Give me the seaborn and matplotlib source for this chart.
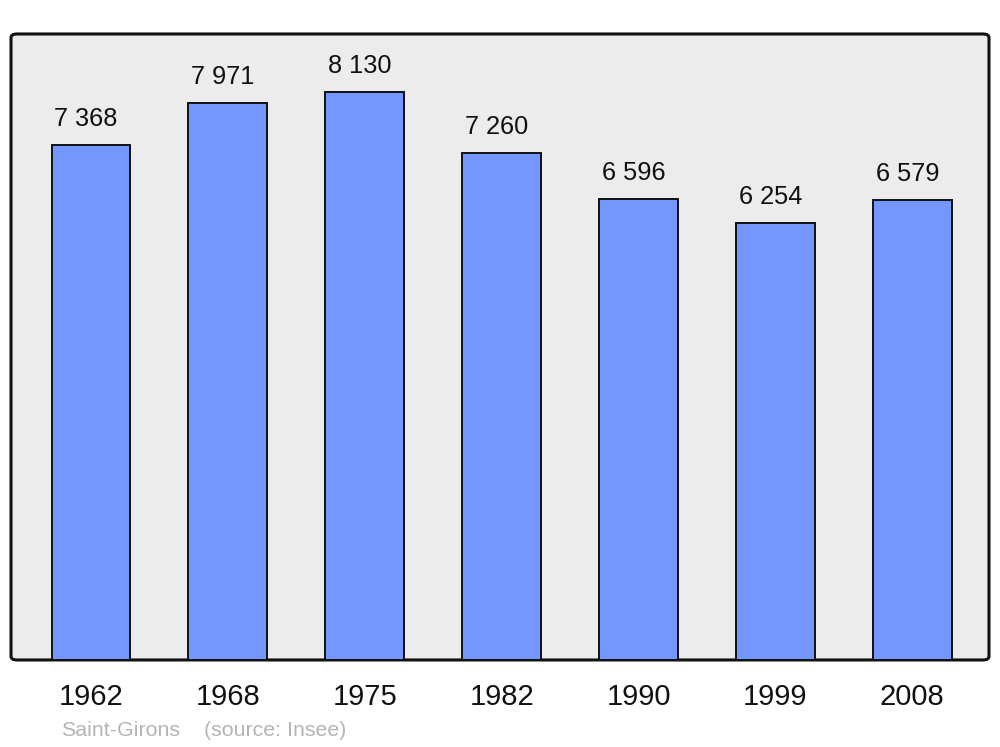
import numpy as np
import pandas as pd
import seaborn as sns
import matplotlib.pyplot as plt
from matplotlib.patches import FancyBboxPatch

years = ["1962", "1968", "1975", "1982", "1990", "1999", "2008"]
population = [7368, 7971, 8130, 7260, 6596, 6254, 6579]
value_labels = ["7 368", "7 971", "8 130", "7 260", "6 596", "6 254", "6 579"]
town = "Saint-Girons"
source = "(source: Insee)"

df = pd.DataFrame({"year": years, "pop": population})

sns.set_style("white")
plt.rcParams['font.family'] = ['Liberation Sans', 'DejaVu Sans']

fig = plt.figure(figsize=(10, 7.47), dpi=100)
ax = fig.add_axes([0.011, 0.1165, 0.978, 0.838])
ax.set_facecolor("none")

# rounded background frame
frame = FancyBboxPatch((0, 0), 1, 1, boxstyle="round,pad=0,rounding_size=0.006",
                       transform=ax.transAxes, facecolor="#ececec", edgecolor="#111111",
                       linewidth=2.2, zorder=0, clip_on=False)
ax.add_patch(frame)

sns.barplot(data=df, x="year", y="pop", color="#7396ff", saturation=1,
            width=0.575, edgecolor="#111111", linewidth=1.4, ax=ax, zorder=2)

# labels sit a bit left of the bar centre in the original
for i, (v, lab) in enumerate(zip(population, value_labels)):
    ax.annotate(lab, (i, v), xytext=(-5, 14), textcoords="offset pixels",
                ha="center", va="bottom", fontsize=18.3, color="#111111")

ax.set_xlim(-0.584, 6.56)
ax.set_ylim(0, 8960)
ax.set_yticks([])
ax.set_xlabel("")
ax.set_ylabel("")
ax.tick_params(axis="x", length=0, pad=16.5, labelsize=21, labelcolor="#111111")
for s in ax.spines.values():
    s.set_visible(False)

fig.text(0.061, 0.0225, town, fontsize=15.4, color="#b4b4b4", ha="left", va="center")
fig.text(0.204, 0.0225, source, fontsize=15.4, color="#b4b4b4", ha="left", va="center")

fig.savefig("out.png", dpi=100, facecolor="white")
